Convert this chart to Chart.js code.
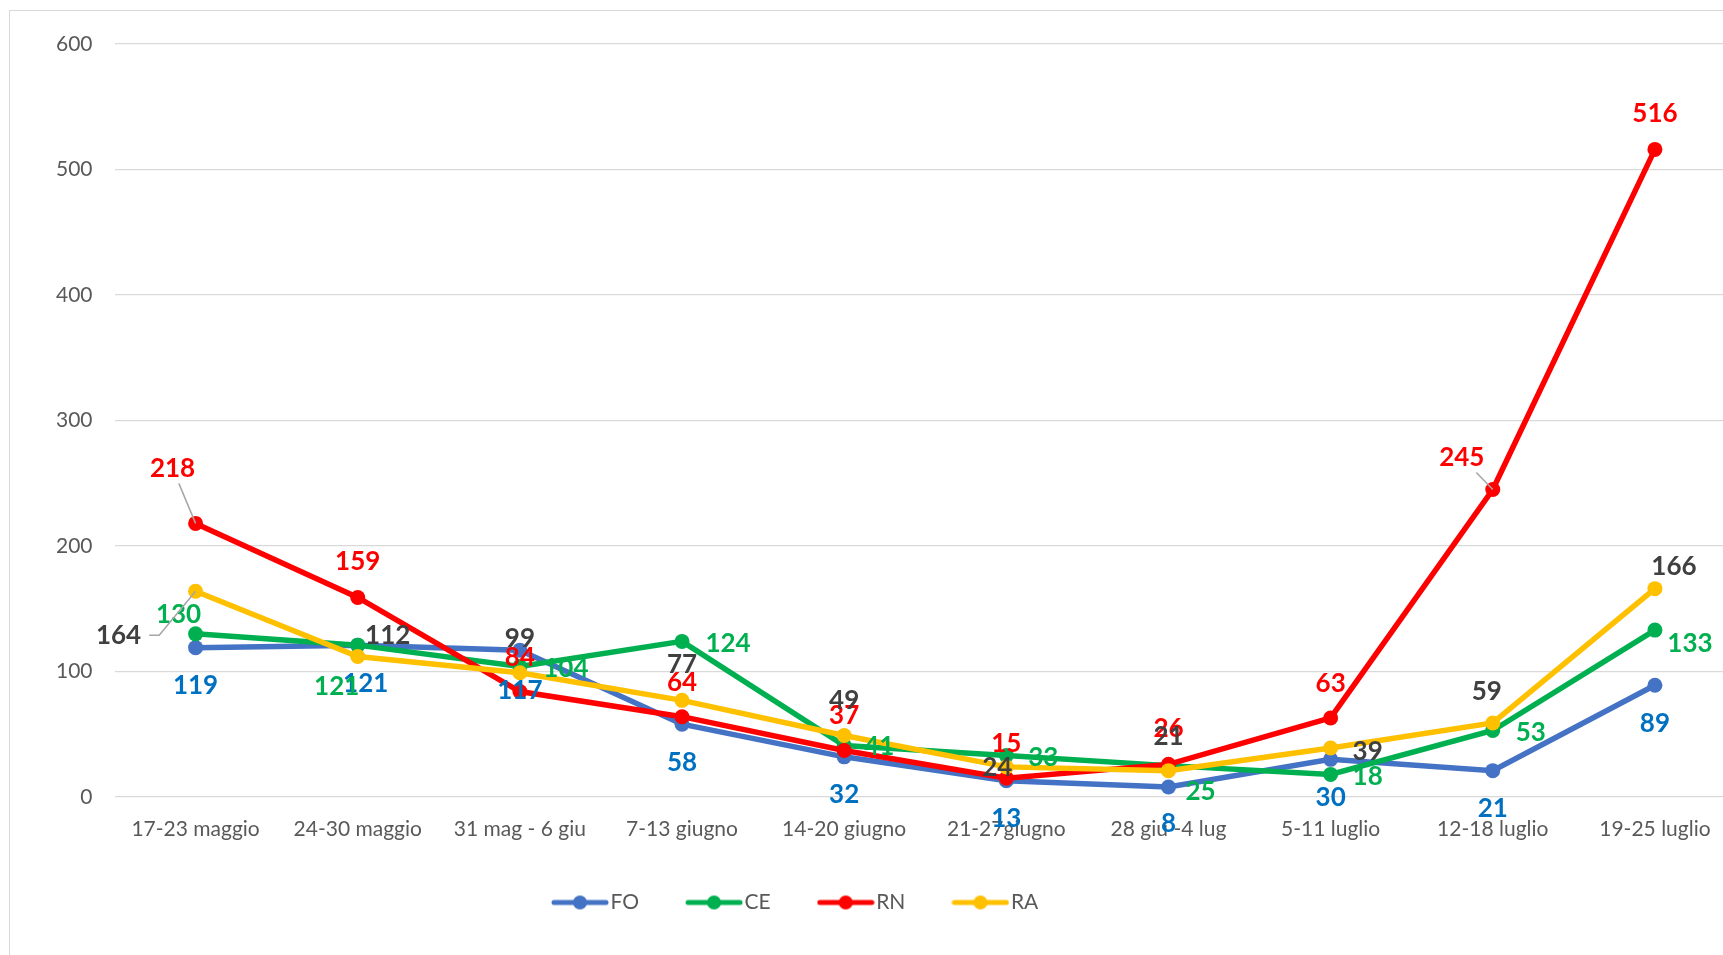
<!DOCTYPE html>
<html lang="it">
<head>
<meta charset="utf-8">
<title>Casi settimanali per provincia</title>
<script src="https://cdn.jsdelivr.net/npm/chart.js@4.4.1/dist/chart.umd.min.js"></script>
<style>
  html, body { margin: 0; padding: 0; background: #fff; overflow: hidden; }
  .frame { position: absolute; left: 9px; top: 10px; width: 1800px; height: 1000px; border: 1.5px solid #d9d9d9; }
  .wrap { position: absolute; left: 0; top: 0; }
</style>
</head>
<body>
<div class="frame"></div>
<div class="wrap"><canvas id="lineChart" width="1760" height="955"></canvas></div>
<script>
// weekly cases per province
const weeks = ["17-23 maggio", "24-30 maggio", "31 mag - 6 giu", "7-13 giugno", "14-20 giugno",
  "21-27giugno", "28 giu -4 lug", "5-11 luglio", "12-18 luglio", "19-25 luglio"];
const names = ["FO", "CE", "RN", "RA"];
const fo = [119, 121, 117, 58, 32, 13, 8, 30, 21, 89];
const ce = [130, 121, 104, 124, 41, 33, 25, 18, 53, 133];
const rn = [218, 159, 84, 64, 37, 15, 26, 63, 245, 516];
const ra = [164, 112, 99, 77, 49, 24, 21, 39, 59, 166];
const yMax = 600;
const yStep = 100;

const lineColors = ["#4472C4", "#00B050", "#FF0000", "#FFC000"];
const labelColors = ["#0070C0", "#00B050", "#FF0000", "#404040"];

// where each value label sits, relative to its point (px)
const labelShift = [
  [[0, 38], [8, 38], [0, 40], [0, 38], [0, 38], [0, 38], [0, 37], [0, 38], [0, 38], [0, 38]],
  [[-17, -19], [-21, 41], [46, 2], [46, 2], [35, 1], [37, 2], [32, 26], [37, 2], [38, 2], [35, 14]],
  [[-23, -55], [0, -36], [0, -34], [0, -34], [0, -35], [0, -35], [0, -36], [0, -34], [-31, -32], [0, -36]],
  [[-77, 44], [30, -21], [0, -34], [0, -36], [0, -35], [-9, 1], [0, -34], [37, 4], [-6, -31], [19, -22]]
];
const leaders = [[], [], [0, 8], [0]];

function legendMark(color) {
  const c = document.createElement("canvas");
  c.width = 58;
  c.height = 16;
  const g = c.getContext("2d");
  g.strokeStyle = color;
  g.lineWidth = 5;
  g.lineCap = "round";
  g.beginPath();
  g.moveTo(3, 8);
  g.lineTo(55, 8);
  g.stroke();
  g.fillStyle = color;
  g.beginPath();
  g.arc(29, 8, 7, 0, Math.PI * 2);
  g.fill();
  return c;
}

var valueLabels = {
  id: "valueLabels",
  afterDatasetsDraw: function (chart) {
    var ctx = chart.ctx;
    ctx.save();
    ctx.font = "bold 26px Lato";
    ctx.textAlign = "center";
    ctx.textBaseline = "middle";
    chart.data.datasets.forEach(function (ds, i) {
      var meta = chart.getDatasetMeta(i);
      meta.data.forEach(function (pt, j) {
        var dx = labelShift[i][j][0], dy = labelShift[i][j][1];
        var x = pt.x + dx, y = pt.y + dy;
        var text = String(ds.data[j]);
        if (leaders[i].indexOf(j) >= 0) {
          var w = ctx.measureText(text).width / 2 + 4, h = 15;
          var vx = -dx, vy = -dy;
          ctx.strokeStyle = "#a6a6a6";
          ctx.lineWidth = 1.5;
          ctx.beginPath();
          if (Math.abs(vx) > Math.abs(vy)) {
            var sx = x + Math.sign(vx) * (w + 4);
            ctx.moveTo(sx, y);
            ctx.lineTo(sx + Math.sign(vx) * 10, y);
          } else {
            var t = Math.min(w / Math.abs(vx || 1e-6), h / Math.abs(vy || 1e-6));
            ctx.moveTo(x + vx * t, y + vy * t);
          }
          ctx.lineTo(pt.x, pt.y);
          ctx.stroke();
        }
        ctx.fillStyle = labelColors[i];
        ctx.fillText(text, x, y);
      });
    });
    ctx.restore();
  }
};

// put the legend where the original has it
var legendSpot = {
  id: "legendSpot",
  afterLayout: function (chart) {
    var lg = chart.legend;
    lg.left = 560 - chart.options.plugins.legend.labels.padding;
    lg.top -= 4;
    lg.bottom -= 4;
  }
};

function draw() {
  Chart.defaults.font.family = "Lato";
  var series = [fo, ce, rn, ra];
  var marks = lineColors.map(legendMark);

  var lineChart = new Chart(document.getElementById("lineChart"), {
    type: "line",
    data: {
      labels: weeks,
      datasets: series.map(function (vals, i) {
        return {
          label: names[i],
          data: vals,
          borderColor: lineColors[i],
          backgroundColor: lineColors[i],
          borderWidth: 5.5,
          pointRadius: 7.5,
          pointBorderWidth: 0,
          pointBackgroundColor: lineColors[i],
          tension: 0,
          order: 4 - i
        };
      })
    },
    options: {
      responsive: false,
      animation: false,
      layout: { padding: { top: 44, left: 0, right: 24, bottom: 28 } },
      plugins: {
        tooltip: { enabled: false },
        legend: {
          position: "bottom",
          align: "start",
          labels: {
            usePointStyle: true,
            pointStyleWidth: 40,
            padding: 55,
            color: "#595959",
            font: { size: 21 },
            generateLabels: function (chart) {
              var items = Chart.defaults.plugins.legend.labels.generateLabels(chart);
              items.sort(function (a, b) { return a.datasetIndex - b.datasetIndex; });
              items.forEach(function (it) { it.pointStyle = marks[it.datasetIndex]; });
              return items;
            }
          }
        }
      },
      scales: {
        x: {
          offset: true,
          grid: { display: false, drawTicks: false, offset: true },
          border: { display: false },
          ticks: { color: "#595959", font: { size: 21 }, padding: 20, maxRotation: 0, autoSkip: false },
          afterFit: function (s) { s.height = 44; s.paddingLeft = 0; s.paddingRight = 0; }
        },
        y: {
          min: 0,
          max: yMax,
          grid: { color: "#d9d9d9", lineWidth: 1.3, drawTicks: false },
          border: { display: false },
          ticks: { stepSize: yStep, color: "#595959", font: { size: 21 }, padding: 22 },
          afterFit: function (s) { s.width = 114.5; s.paddingTop = 0; s.paddingBottom = 0; }
        }
      }
    },
    plugins: [valueLabels, legendSpot]
  });
}

Promise.all([
  document.fonts.load("21px Lato"),
  document.fonts.load("bold 26px Lato")
]).then(draw, draw);
</script>
</body>
</html>
